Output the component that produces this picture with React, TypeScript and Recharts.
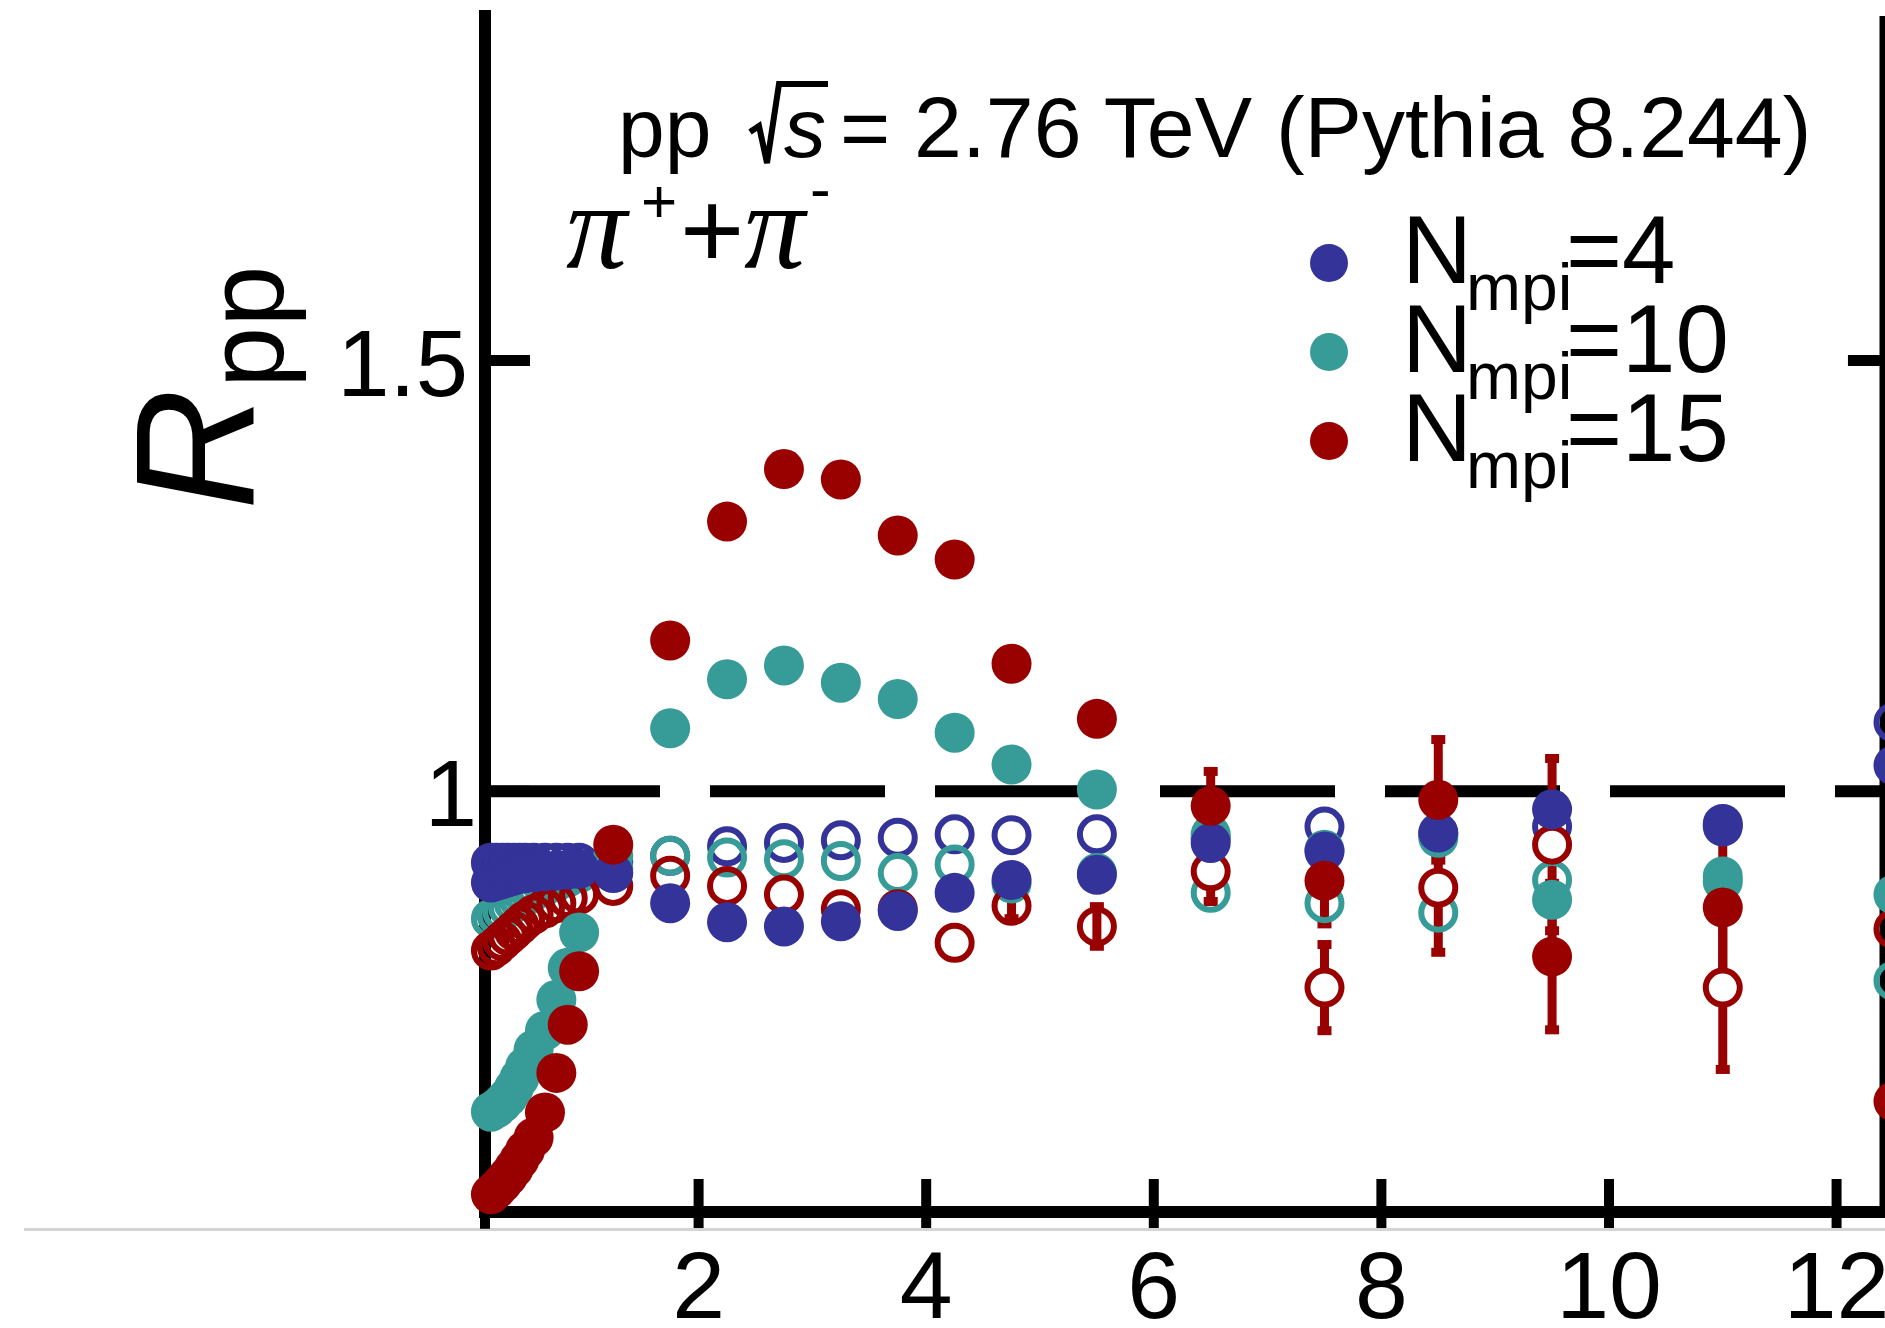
import { ScatterChart, Scatter, XAxis, YAxis, ReferenceLine, ErrorBar, Customized } from 'recharts';

// pT bin centres (GeV/c), shared by every series
const PT = [0.175, 0.225, 0.275, 0.325, 0.375, 0.425, 0.475, 0.55, 0.65, 0.75, 0.85, 0.95, 1.25, 1.75, 2.25, 2.75, 3.25, 3.75, 4.25, 4.75, 5.5, 6.5, 7.5, 8.5, 9.5, 11, 12.5];

// filled markers
const N4_FILLED = [0.894, 0.896, 0.898, 0.9, 0.902, 0.904, 0.905, 0.906, 0.907, 0.908, 0.909, 0.91, 0.905, 0.87, 0.848, 0.843, 0.849, 0.861, 0.882, 0.897, 0.903, 0.94, 0.93, 0.952, 0.979, 0.959, 1.03];
const N10_FILLED = [0.628, 0.632, 0.638, 0.645, 0.655, 0.667, 0.68, 0.7, 0.722, 0.758, 0.795, 0.836, 0.925, 1.073, 1.13, 1.146, 1.126, 1.107, 1.068, 1.031, 1.002, 0.95, 0.932, 0.946, 0.874, 0.895, 0.88];
const N15_FILLED = [0.532, 0.538, 0.545, 0.553, 0.562, 0.572, 0.583, 0.598, 0.627, 0.673, 0.729, 0.791, 0.938, 1.175, 1.313, 1.374, 1.362, 1.297, 1.269, 1.148, 1.084, 0.983, 0.896, 0.99, 0.808, 0.865, 0.64];

// open markers
const N4_OPEN = [0.917, 0.917, 0.917, 0.917, 0.917, 0.917, 0.917, 0.917, 0.917, 0.917, 0.917, 0.917, 0.918, 0.925, 0.936, 0.94, 0.943, 0.946, 0.95, 0.949, 0.95, 0.945, 0.959, 0.95, 0.959, 0.962, 1.08];
const N10_OPEN = [0.852, 0.856, 0.86, 0.865, 0.87, 0.874, 0.878, 0.884, 0.89, 0.895, 0.9, 0.905, 0.91, 0.925, 0.923, 0.921, 0.919, 0.905, 0.915, 0.893, 0.905, 0.882, 0.87, 0.859, 0.897, 0.901, 0.78];
const N15_OPEN = [0.815, 0.82, 0.826, 0.832, 0.838, 0.844, 0.85, 0.857, 0.864, 0.87, 0.876, 0.88, 0.89, 0.902, 0.89, 0.88, 0.863, 0.863, 0.824, 0.867, 0.843, 0.907, 0.772, 0.888, 0.938, 0.772, 0.84];

// statistical errors (0 = no bar drawn)
const N15_FILLED_ERR = [0, 0, 0, 0, 0, 0, 0, 0, 0, 0, 0, 0, 0, 0, 0, 0, 0, 0, 0, 0, 0, 0.04, 0.05, 0.07, 0.085, 0.09, 0];
const N15_OPEN_ERR = [0, 0, 0, 0, 0, 0, 0, 0, 0, 0, 0, 0, 0, 0, 0, 0, 0, 0, 0, 0.015, 0.023, 0.035, 0.05, 0.075, 0.1, 0.095, 0];

const X_TICKS = [2, 4, 6, 8, 10, 12];
const Y_TICKS = [1, 1.5];
const LEGEND = ['4', '10', '15'];

const BLUE = '#333399';
const TEAL = '#379b97';
const RED = '#990000';
const FONT = '"Liberation Sans", Arial, Helvetica, sans-serif';
const SERIF = '"Liberation Serif", "Times New Roman", serif';

const toPoints = (ys: number[], errs?: number[]) =>
  PT.map((x, i) => ({ x, y: ys[i], err: errs ? errs[i] : 0 }));

const filled = (color: string) => (p: any) => <circle cx={p.cx} cy={p.cy} r={20} fill={color} />;
const open = (color: string) => (p: any) => (
  <circle
    cx={p.cx}
    cy={p.cy}
    r={17}
    fill={p.payload && p.payload.err >= 0.03 ? '#fff' : 'none'}
    stroke={color}
    strokeWidth={6}
  />
);

const BottomTick = ({ x, y, payload }: any) => (
  <g>
    <line x1={x} x2={x} y1={y - 33} y2={y + 16} stroke="#000" strokeWidth={10} />
    <text x={x} y={y + 106} textAnchor="middle" fontSize={95} fontFamily={FONT} fill="#000">
      {payload.value}
    </text>
  </g>
);

const TopTick = ({ x, y }: any) => <line x1={x} x2={x} y1={y} y2={y + 35} stroke="#000" strokeWidth={11} />;

const LeftTick = ({ x, y, payload }: any) => (
  <g>
    <line x1={x} x2={x + 45} y1={y} y2={y} stroke="#000" strokeWidth={11} />
    <text
      x={payload.value === 1 ? x - 8 : x - 17}
      y={y + 35}
      textAnchor="end"
      fontSize={94}
      fontFamily={FONT}
      fill="#000"
    >
      {payload.value}
    </text>
  </g>
);

const Annotations = () => (
  <g fontFamily={FONT} fill="#000">
    {/* title */}
    <polyline points="750,132 759,126 767,163 779,84 828,84" fill="none" stroke="#000" strokeWidth={6} />
    <text x={618} y={157} fontSize={84}>
      pp
      <tspan x={784} fontStyle="italic">s</tspan>
      <tspan x={840} fontSize={86}>= 2.76 TeV (Pythia 8.244)</tspan>
    </text>

    {/* particle */}
    <text x={566} y={268} fontSize={122}>
      <tspan fontStyle="italic" fontFamily={SERIF}>π</tspan>
      <tspan x={641} y={222} fontSize={62}>+</tspan>
      <tspan x={680} y={268} fontSize={110}>+</tspan>
      <tspan x={744} fontStyle="italic" fontFamily={SERIF}>π</tspan>
      <tspan x={810} y={210} fontSize={62}>-</tspan>
    </text>

    {/* y axis title */}
    <text transform="translate(253,510) rotate(-90)" fontSize={168}>
      <tspan fontStyle="italic">R</tspan>
      <tspan x={122} dy={30} fontSize={110}>pp</tspan>
    </text>

    {/* legend */}
    {LEGEND.map((n, i) => {
      const cy = 263 + i * 89;
      const base = 283 + i * 89;
      const color = [BLUE, TEAL, RED][i];
      return (
        <g key={n}>
          <circle cx={1329} cy={cy} r={19} fill={color} />
          <text x={1402} y={base} fontSize={97}>
            N
            <tspan x={1466} y={base + 27} fontSize={66}>mpi</tspan>
            <tspan x={1566} y={base} fontSize={96}>={n}</tspan>
          </text>
        </g>
      );
    })}
  </g>
);

export default function App() {
  return (
    <div style={{ position: 'absolute', left: 0, top: 0, width: 1885, height: 1328, overflow: 'hidden', background: '#fff' }}>
      <div style={{ position: 'absolute', left: 24, top: 1228, width: 1861, height: 3, background: '#d4d4d4' }} />
      <div style={{ position: 'absolute', left: 0, top: 0 }}>
        <ScatterChart width={1930} height={1328} margin={{ top: 16, right: 14, bottom: 16, left: 385 }}>
          <XAxis
            xAxisId={0}
            type="number"
            dataKey="x"
            domain={[0.123, 12.698]}
            ticks={X_TICKS}
            height={100}
            tickSize={0}
            tickMargin={0}
            tickLine={false}
            tick={BottomTick}
            axisLine={{ stroke: '#000', strokeWidth: 12, strokeLinecap: 'square' }}
          />
          <XAxis
            xAxisId="top"
            orientation="top"
            type="number"
            dataKey="x"
            domain={[0.123, 12.698]}
            ticks={X_TICKS}
            height={0}
            tickSize={0}
            tickMargin={0}
            tickLine={false}
            tick={TopTick}
            axisLine={{ stroke: '#000', strokeWidth: 12, strokeLinecap: 'square' }}
          />
          <YAxis
            type="number"
            dataKey="y"
            domain={[0.5115, 1.9]}
            ticks={Y_TICKS}
            width={100}
            tickSize={0}
            tickMargin={0}
            tickLine={false}
            tick={LeftTick}
            axisLine={{ stroke: '#000', strokeWidth: 12, strokeLinecap: 'square' }}
          />

          <ReferenceLine y={1} stroke="#000" strokeWidth={12} strokeDasharray="175 50" />
          <ReferenceLine x={12.43} stroke="#000" strokeWidth={12} />
          <ReferenceLine
            segment={[{ x: 12.1, y: 1.5 }, { x: 12.43, y: 1.5 }]}
            stroke="#000"
            strokeWidth={11}
          />
          <ReferenceLine
            segment={[{ x: 0.123, y: 0.5115 }, { x: 0.123, y: 0.492 }]}
            ifOverflow="visible"
            stroke="#000"
            strokeWidth={10}
          />

          <Scatter data={toPoints(N4_OPEN)} shape={open(BLUE)} isAnimationActive={false} />
          <Scatter data={toPoints(N10_OPEN)} shape={open(TEAL)} isAnimationActive={false} />
          <Scatter data={toPoints(N15_OPEN, N15_OPEN_ERR)} shape={open(RED)} isAnimationActive={false}>
            <ErrorBar dataKey="err" direction="y" width={7} strokeWidth={9} stroke={RED} />
          </Scatter>
          <Scatter data={toPoints(N10_FILLED)} shape={filled(TEAL)} isAnimationActive={false} />
          <Scatter data={toPoints(N4_FILLED)} shape={filled(BLUE)} isAnimationActive={false} />
          <Scatter data={toPoints(N15_FILLED, N15_FILLED_ERR)} shape={filled(RED)} isAnimationActive={false}>
            <ErrorBar dataKey="err" direction="y" width={7} strokeWidth={9} stroke={RED} />
          </Scatter>

          <Customized component={Annotations} />
        </ScatterChart>
      </div>
    </div>
  );
}
